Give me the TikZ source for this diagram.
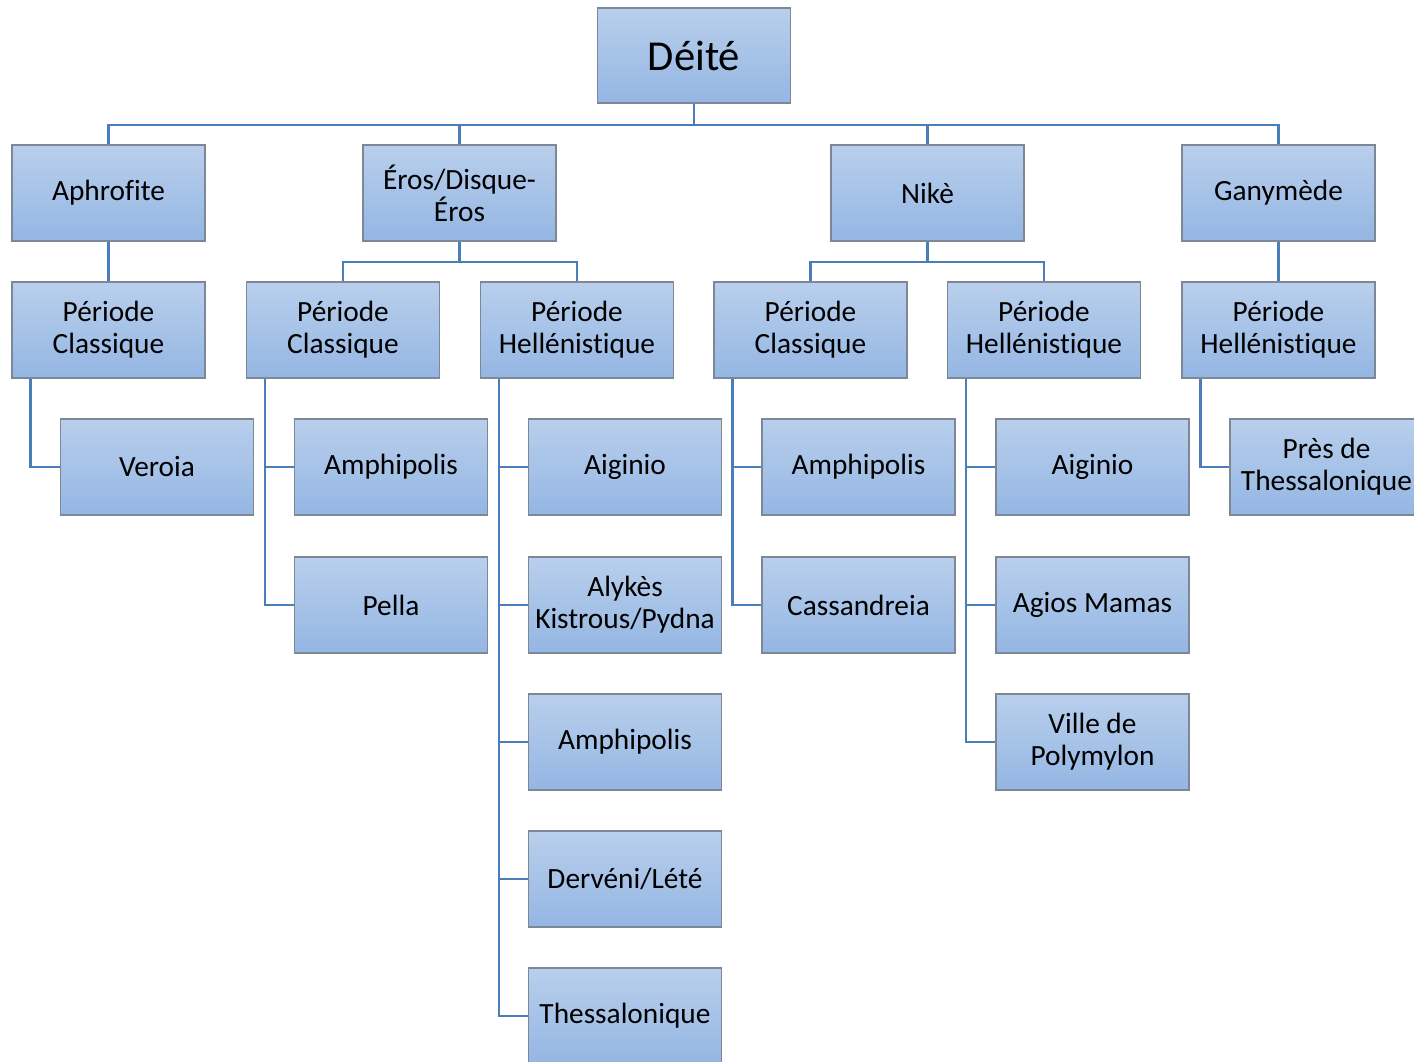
\documentclass[tikz,border=0pt]{standalone}
\usepackage{fontspec}
\setmainfont{Carlito}[Ligatures=NoCommon, RawFeature={-liga;-clig;-dlig;-calt}]
\definecolor{boxtop}{RGB}{185,207,236}
\definecolor{boxbot}{RGB}{148,182,227}
\definecolor{boxline}{RGB}{125,135,150}
\definecolor{linkcol}{RGB}{74,126,187}
\begin{document}
\begin{tikzpicture}[x=0.75pt,y=-0.75pt,
  box/.style={draw=boxline, line width=0.8pt, top color=boxtop, bottom color=boxbot,
    minimum width=144.75pt, minimum height=72pt, inner sep=1pt, align=center,
    font=\fontsize{22}{24}\selectfont, text=black,
    execute at begin node={\vspace*{4pt}}},
  link/.style={draw=linkcol, line width=2pt}]
\useasboundingbox (0,0) rectangle (1414,1061);
\clip (0,0) rectangle (1414,1061);

% root
\node[box, minimum height=71.25pt, font=\fontsize{32}{36}\selectfont] (root) at (694,55.5) {Déité};

% deities
\node[box] (a1) at (108.5,193) {Aphrofite};
\node[box] (e1) at (459.5,193) {Éros/Disque-\\Éros};
\node[box] (n1) at (927.5,193) {Nikè};
\node[box] (g1) at (1278.5,193) {Ganymède};

% periods
\node[box] (a2) at (108.5,330) {Période\\Classique};
\node[box] (e2) at (343,330) {Période\\Classique};
\node[box] (e3) at (577,330) {Période\\Hellénistique};
\node[box] (n2) at (810.5,330) {Période\\Classique};
\node[box] (n3) at (1044,330) {Période\\Hellénistique};
\node[box] (g2) at (1278.5,330) {Période\\Hellénistique};

% sites
\node[box] (a2a) at (157,467) {Veroia};
\node[box] (e2a) at (391,467) {Amphipolis};
\node[box] (e2b) at (391,605) {Pella};
\node[box] (e3a) at (625,467) {Aiginio};
\node[box] (e3b) at (625,605) {Alykès\\Kistrous/Pydna};
\node[box] (e3c) at (625,742) {Amphipolis};
\node[box] (e3d) at (625,879) {Dervéni/Lété};
\node[box] (e3e) at (625,1016) {Thessalonique};
\node[box] (n2a) at (858.5,467) {Amphipolis};
\node[box] (n2b) at (858.5,605) {Cassandreia};
\node[box] (n3a) at (1092.5,467) {Aiginio};
\node[box] (n3b) at (1092.5,605) {Agios Mamas};
\node[box] (n3c) at (1092.5,742) {Ville de\\Polymylon};
\node[box] (g2a) at (1326.5,467) {Près de\\Thessalonique};

% root to deities
\coordinate (bus) at (0,125);
\foreach \c in {a1,e1,n1,g1}
  \draw[link] (root.south) -- (root.south |- bus) -| (\c.north);

% deities to periods
\coordinate (bus2) at (0,262);
\draw[link] (a1.south) -- (a2.north);
\draw[link] (g1.south) -- (g2.north);
\foreach \c in {e2,e3}
  \draw[link] (e1.south) -- (e1.south |- bus2) -| (\c.north);
\foreach \c in {n2,n3}
  \draw[link] (n1.south) -- (n1.south |- bus2) -| (\c.north);

% periods to sites
\draw[link] ([xshift=14.25pt]a2.south west) |- (a2a.west);
\foreach \c in {e2a,e2b}
  \draw[link] ([xshift=14.25pt]e2.south west) |- (\c.west);
\foreach \c in {e3a,e3b,e3c,e3d,e3e}
  \draw[link] ([xshift=14.25pt]e3.south west) |- (\c.west);
\foreach \c in {n2a,n2b}
  \draw[link] ([xshift=14.25pt]n2.south west) |- (\c.west);
\foreach \c in {n3a,n3b,n3c}
  \draw[link] ([xshift=14.25pt]n3.south west) |- (\c.west);
\draw[link] ([xshift=14.25pt]g2.south west) |- (g2a.west);
\end{tikzpicture}
\end{document}
